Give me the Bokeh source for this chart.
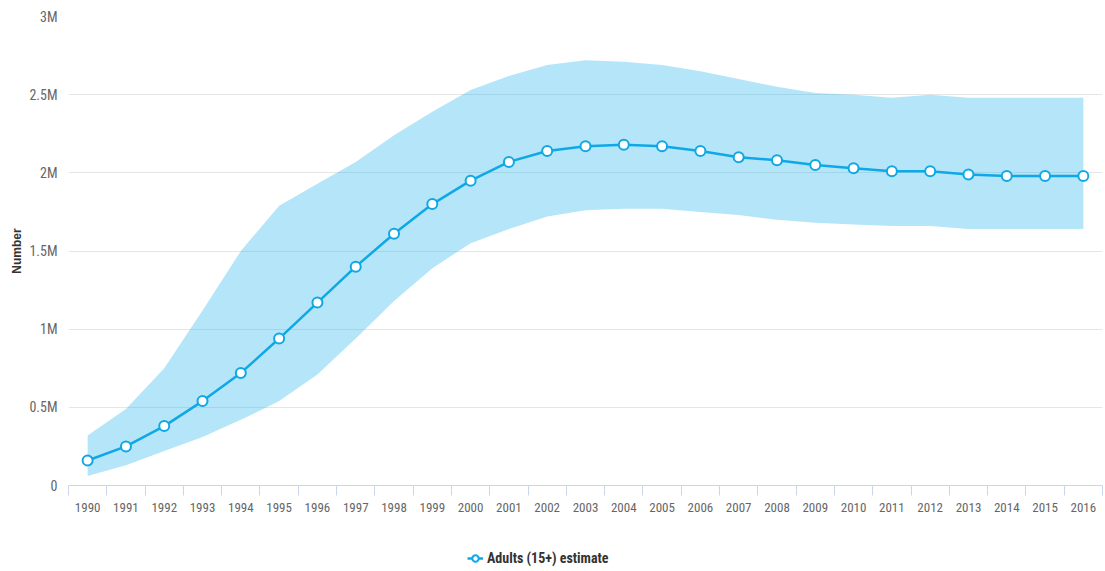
from bokeh.plotting import figure
from bokeh.layouts import column
from bokeh.models import (ColumnDataSource, Range1d, FixedTicker, CustomJSTickFormatter,
                          Legend, LegendItem)
from bokeh.embed import file_html
from bokeh.resources import INLINE

years = list(range(1990, 2017))
estimate = [0.16, 0.25, 0.38, 0.54, 0.72, 0.94, 1.17, 1.40, 1.61, 1.80, 1.95, 2.07, 2.14,
            2.17, 2.18, 2.17, 2.14, 2.10, 2.08, 2.05, 2.03, 2.01, 2.01, 1.99, 1.98, 1.98, 1.98]
upper = [0.32, 0.49, 0.75, 1.12, 1.50, 1.79, 1.93, 2.07, 2.24, 2.39, 2.53, 2.62, 2.69,
         2.72, 2.71, 2.69, 2.65, 2.60, 2.55, 2.51, 2.50, 2.48, 2.50, 2.48, 2.48, 2.48, 2.48]
lower = [0.06, 0.13, 0.22, 0.31, 0.42, 0.54, 0.71, 0.94, 1.18, 1.39, 1.55, 1.64, 1.72,
         1.76, 1.77, 1.77, 1.75, 1.73, 1.70, 1.68, 1.67, 1.66, 1.66, 1.64, 1.64, 1.64, 1.64]
y_ticks = [0, 0.5, 1, 1.5, 2, 2.5, 3]
series_name = "Adults (15+) estimate"

src = ColumnDataSource(dict(x=years, est=estimate, up=upper, lo=lower))

FONT = "'Liberation Sans Narrow', 'Arial Narrow', 'Roboto Condensed', 'Liberation Sans', sans-serif"
LINE_COLOR = "#0fa8e6"

p = figure(width=1103, height=525, output_backend="svg", toolbar_location=None,
           x_range=Range1d(years[0] - 0.5, years[-1] + 0.5), y_range=Range1d(0, 3),
           min_border_left=68, min_border_top=16, min_border_right=1, min_border_bottom=40)
p.outline_line_color = None
p.background_fill_color = "white"

band = p.varea(x="x", y1="lo", y2="up", source=src, fill_color="#1ab0ec", fill_alpha=0.33)
line = p.line(x="x", y="est", source=src, line_color=LINE_COLOR, line_width=2.5)
pts = p.scatter(x="x", y="est", source=src, size=10, marker="circle",
                fill_color="white", line_color=LINE_COLOR, line_width=2)

# x axis
p.xaxis.ticker = FixedTicker(ticks=years, minor_ticks=[y + 0.5 for y in [years[0] - 1] + years])
p.xaxis.major_tick_line_color = None
p.xaxis.minor_tick_line_color = "#ccd6eb"
p.xaxis.minor_tick_out = 10
p.xaxis.minor_tick_in = 0
p.xaxis.axis_line_color = "#ccd6eb"
p.xaxis.major_label_text_color = "#666666"
p.xaxis.major_label_text_font = FONT
p.xaxis.major_label_text_font_size = "13px"
p.xaxis.major_label_standoff = 7
p.xgrid.grid_line_color = None

# y axis
p.yaxis.ticker = FixedTicker(ticks=y_ticks)
p.yaxis.formatter = CustomJSTickFormatter(code="return tick == 0 ? '0' : tick + 'M';")
p.yaxis.axis_line_color = None
p.yaxis.major_tick_line_color = None
p.yaxis.minor_tick_line_color = None
p.yaxis.major_tick_out = 0
p.yaxis.major_tick_in = 0
p.yaxis.minor_tick_out = 0
p.yaxis.major_label_text_color = "#666666"
p.yaxis.major_label_text_font = FONT
p.yaxis.major_label_text_font_size = "14px"
p.yaxis.major_label_standoff = 11
p.yaxis.axis_label = "Number"
p.yaxis.axis_label_text_font = "'Liberation Sans', Arial, sans-serif"
p.yaxis.axis_label_text_font_style = "bold"
p.yaxis.axis_label_text_font_size = "12px"
p.yaxis.axis_label_text_color = "#333333"
p.yaxis.axis_label_standoff = 2
p.ygrid.grid_line_color = "#e6e6e6"
p.ygrid.grid_line_width = 1

# legend strip underneath
leg = figure(width=1103, height=44, output_backend="svg", toolbar_location=None,
             x_range=Range1d(0, 1), y_range=Range1d(0, 1),
             x_axis_type=None, y_axis_type=None,
             min_border_left=0, min_border_right=0, min_border_top=0, min_border_bottom=0)
leg.outline_line_color = None
leg.xgrid.visible = False
leg.ygrid.visible = False
dummy = ColumnDataSource(dict(x=[-10, -9], y=[-10, -10]))
l_line = leg.line(x="x", y="y", source=dummy, line_color=LINE_COLOR, line_width=2.5)
l_pts = leg.scatter(x="x", y="y", source=dummy, size=10, marker="circle",
                    fill_color="white", line_color=LINE_COLOR, line_width=2)
legend = Legend(items=[LegendItem(label=series_name, renderers=[l_line, l_pts])],
                location=(399, 3), orientation="horizontal",
                label_text_font=FONT, label_text_font_style="bold",
                label_text_font_size="14px", label_text_color="#333333",
                border_line_color=None, background_fill_alpha=0,
                glyph_width=16, glyph_height=16, label_standoff=4,
                margin=0, padding=4)
leg.add_layout(legend, "center")

layout = column(p, leg, spacing=0)
open("out.html", "w").write(file_html(layout, INLINE))
